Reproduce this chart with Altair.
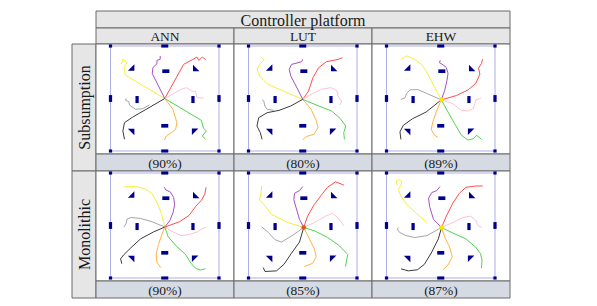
import altair as alt
import pandas as pd

SERIF = "Liberation Serif"
HEADER = "Controller platform"
PLATFORMS = ["ANN", "LUT", "EHW"]
ARCHS = ["Subsumption", "Monolithic"]
SCORES_SUB = ["(90%)", "(80%)", "(89%)"]
SCORES_MONO = ["(90%)", "(85%)", "(87%)"]

TRAJ_NAMES = ["yellow", "purple", "red", "pink", "green", "orange", "black", "gray"]
TRAJ_COLORS = ["#f4ef3c", "#a64fc4", "#ff4d4d", "#ffc4cf", "#4fd44f", "#ffb347", "#3c3c3c", "#a6a6a6"]

# arena obstacles (arena units 0-100, y downward): centre x, centre y, width, height
OBST_CX = [0, 50, 100, 0, 100, 0, 50, 100, 51, 50, 24.5, 76]
OBST_CY = [0, 0, 0, 50, 50, 100, 100, 100, 24, 76, 51, 51]
OBST_W = [3, 6.5, 3, 3, 3, 3, 6.5, 3, 6.5, 6.5, 3, 3]
OBST_H = [3, 3, 3, 6.5, 6.5, 3, 3, 3, 3.5, 3.5, 6.7, 6.7]

TRI_CX = [19, 79, 19, 78]
TRI_CY = [20.5, 21, 82, 81.6]
TRI_SHAPE = ["M1,-1L1,1L-1,1Z", "M-1,-1L-1,1L1,1Z", "M-1,-1L1,-1L1,1Z", "M-1,-1L1,-1L-1,1Z"]

SUB_ANN = {
    "yellow": [(50, 50), (13.8, 27.9), (12.3, 20.6), (15.4, 15.6), (11.4, 12.7), (10.2, 16.8)],
    "purple": [(50, 50), (38.5, 26.3), (39.1, 20.6), (42.8, 16.8), (42.8, 13.7), (45.8, 12.7), (45.8, 9.5)],
    "red": [(50, 50), (67.4, 17.5), (76, 12.7), (79.7, 10.5), (81.5, 13.7), (84.6, 10.5), (87.7, 13)],
    "pink": [(50, 50), (65.2, 41.3), (69.8, 39.7), (75.1, 42.9), (78.5, 43.5), (79.7, 49.2), (85.8, 49.8)],
    "green": [(50, 50), (83.7, 70.8), (85.8, 78.4), (88.3, 81), (84.6, 85.7), (87.7, 88.9)],
    "orange": [(50, 50), (57.5, 60.3), (61.2, 73), (60, 79.4), (56, 82.5), (51.4, 85.7), (49.8, 89.5)],
    "black": [(50, 50), (32.9, 60.3), (20.6, 67.6), (12.9, 73), (11.4, 81), (12.9, 88.9)],
    "gray": [(36, 56), (29.8, 59.7), (23.1, 60.3), (17.5, 56.2), (16.9, 53), (13.8, 51.7), (14.5, 49.8)],
}
SUB_LUT = {
    "yellow": [(50, 50.8), (37.5, 45.4), (25, 39.7), (17.2, 35.9), (10.3, 28.6), (7.8, 22.2), (10.9, 16.8), (14.1, 13.7), (12.5, 11.1)],
    "purple": [(50, 50.8), (43.8, 38.1), (39, 28.6), (37.5, 22.2), (39.7, 17.5), (44.7, 16.2), (49, 14.9), (50, 12.7)],
    "red": [(50, 50.8), (55.3, 42.9), (59.4, 30.2), (64.7, 20.6), (71.9, 14.9), (78.1, 13.7), (82.8, 12.7), (86.6, 11.1)],
    "pink": [(50, 50.8), (57.8, 46), (66.6, 41.3), (75.9, 39.7), (81.3, 42.2), (82.8, 48.6), (85.9, 52.4), (84.4, 56.2)],
    "green": [(50, 50.8), (64.7, 57.1), (76.6, 61.9), (84.4, 68.9), (89.7, 76.2), (87.8, 82.5), (88.4, 88.9)],
    "orange": [(50, 50.8), (57.8, 60.3), (62.5, 71.4), (64.1, 77.8), (60.3, 84.1), (53.1, 86.3), (50, 89.5)],
    "black": [(50, 50.8), (39, 57.1), (28.1, 61.3), (17.2, 63.5), (9.4, 68.3), (7.8, 76.2), (10.9, 82.5), (12.5, 88.9)],
    "gray": [(23.4, 61.3), (17.2, 60.3), (15, 57.1), (14.1, 52.4), (12.5, 51.1)],
}
SUB_EHW = {
    "yellow": [(50.5, 51.3), (44.3, 39.3), (38.1, 26.7), (32.8, 17.9), (25.7, 12.6), (18.6, 9.4), (13.3, 12.6)],
    "purple": [(50.5, 51.3), (53.6, 42.5), (55.7, 33), (56.7, 26.1), (55.1, 20.4), (52, 17.9), (48.9, 16), (49.5, 13.5)],
    "red": [(50.5, 51.3), (64.4, 47.2), (75.2, 41.8), (82.4, 35.5), (86.1, 26.7), (84.8, 21.1), (87.6, 16.7), (88.5, 12.6)],
    "pink": [(50.5, 51.3), (61.3, 55), (69, 61.3), (75.2, 61.9), (79.9, 59.7), (81.4, 55), (82.4, 51.3), (87.6, 49.4)],
    "green": [(50.5, 51.3), (56.7, 62.9), (62.8, 73.9), (69, 84.9), (75.2, 89.6), (80.5, 88.1), (83, 84.9), (87.6, 89)],
    "orange": [(50.5, 51.3), (45.8, 62.9), (42.7, 72.3), (41.2, 79.6), (44.3, 84.9), (47.4, 87.1)],
    "black": [(50.5, 51.3), (36.5, 62.9), (24.1, 69.2), (15.5, 75.5), (12.4, 81.8), (13.3, 89)],
    "gray": [(50.5, 51.3), (38.1, 45.6), (28.8, 41.5), (21.7, 41.8), (18.6, 45), (17, 49.4), (13.3, 50.9)],
}
MONO_ANN = {
    "yellow": [(50.1, 51.5), (47.2, 39.4), (43.3, 28.8), (38.2, 19.7), (32.2, 15.2), (24.2, 13), (12.8, 13)],
    "purple": [(50.1, 51.5), (54.6, 45.5), (57.6, 37.9), (59.1, 30.3), (58.2, 23.3), (55.2, 18.2), (51, 16.1), (49.6, 13.6)],
    "red": [(50.1, 51.5), (63.6, 46.4), (72.5, 40.3), (78.5, 31.8), (83.9, 25.8), (86.9, 20.3), (88.1, 13.6)],
    "pink": [(50.1, 51.5), (57.6, 56.1), (65.1, 59.7), (73.1, 58.5), (80, 56.1), (84.5, 53), (88.1, 51.5)],
    "green": [(50.1, 51.5), (53.1, 60.6), (60.6, 69.7), (69, 77.3), (74, 85.8), (78.5, 90.9), (83, 92.4), (87.5, 91.2)],
    "orange": [(50.1, 51.5), (47.2, 59.1), (44.2, 68.2), (42.1, 77.3), (42.7, 84.8), (46.3, 90)],
    "black": [(50.1, 51.5), (39.7, 56.1), (27.8, 62.7), (18.8, 71.2), (12.2, 77.9), (9.3, 81.8), (10.4, 86.4)],
    "gray": [(50.1, 51.5), (38.2, 46.4), (27.8, 43.3), (18.8, 42.4), (15.2, 43.9), (14.3, 48.5), (12.2, 51.5)],
}
MONO_LUT = {
    "yellow": [(50.9, 51.9), (36.4, 47.2), (21.2, 39.4), (13.6, 29.2), (10, 25.5), (11.5, 19.9), (12.1, 12.4)],
    "purple": [(50.9, 51.9), (47, 44.1), (43.9, 33.2), (41.8, 25.5), (42.4, 19.3), (47, 16.8), (50, 13)],
    "red": [(50.9, 51.9), (54.5, 41), (60.6, 30.1), (66.7, 21.7), (72.7, 13.7), (80.3, 8.4), (87.9, 11.5)],
    "pink": [(50.9, 51.9), (60.6, 47.2), (71.2, 41), (77.3, 38.5), (82.4, 42.5), (87.9, 50.3)],
    "green": [(50.9, 51.9), (60.6, 55), (72.7, 61.2), (83.3, 68.9), (91.5, 77.6), (89.4, 89.1)],
    "orange": [(50.9, 51.9), (56.1, 62.7), (60.6, 72), (62.4, 79.8), (59.1, 86), (51.5, 89.1)],
    "black": [(50.9, 51.9), (47, 65.8), (39.4, 76.7), (32.7, 87), (25.8, 93.2), (15.2, 93.8), (13.6, 90.1)],
    "gray": [(50.9, 51.9), (42.4, 58.1), (36.4, 62.1), (30.3, 65.8), (24.2, 63.4), (18.2, 56.5), (12.1, 51.2)],
}
MONO_EHW = {
    "yellow": [(37.3, 47.2), (26.9, 37.9), (17.9, 29.2), (12.8, 20.8), (11, 15.5), (13.4, 11.5), (14, 8.4), (11.9, 6.2), (9, 7.5), (9.9, 11.5)],
    "purple": [(50.7, 51.9), (43.3, 44.1), (39.7, 31.7), (38.8, 23.9), (41.8, 18.6), (46.3, 16.8), (49.3, 13)],
    "red": [(50.7, 51.9), (55.2, 41), (61.2, 28.6), (67.2, 19.3), (73.1, 13.7), (82.1, 12.4), (88.7, 12.4)],
    "pink": [(50.7, 51.9), (61.2, 47.2), (70.1, 42.5), (77.6, 41), (82.1, 44.7), (84.5, 50.3), (88.1, 51.9)],
    "green": [(50.7, 51.9), (59.7, 56.5), (73.1, 62.7), (82.1, 70.5), (86.6, 76.7), (88.1, 82.9), (87.5, 90.7)],
    "orange": [(50.7, 51.9), (53.7, 61.2), (58.2, 70.5), (60.6, 79.8), (56.7, 87.6), (52.2, 92.2)],
    "black": [(50.7, 51.9), (47.8, 62.7), (41.8, 75.2), (34.9, 87), (28.4, 92.2), (20, 93.2), (13.4, 91.3)],
    "gray": [(50.7, 51.9), (37.3, 59.6), (26, 61.5), (17.9, 59.6), (11.9, 56.5), (9.9, 53.4), (11.3, 51.9)],
}
# centre marker per panel (colour, x, y) or None
DOT_SUB = [None, None, ("#f6e600", 50.5, 51.3)]
DOT_MONO = [None, ("#e2561e", 50.9, 51.9), ("#f6e600", 50.7, 51.9)]

# ---- table layout (pixel units of the table) ----
COL_EDGES = [0, 24, 162, 300, 438]          # row-header | ANN | LUT | EHW
ROW_EDGES = [0, 17, 33, 143, 160, 270, 287]  # title | col hdr | panel | caption | panel | caption
ARENA_LEFT, ARENA_TOP = 14.5, 2.0
ARENA_W, ARENA_H = 108.5, 105.0
BORDER = "#6a6a6a"
HDR_FILL = "#e6e6e6"
CAP_FILL = "#d6dbe3"
TXT = "#1a1a1a"
NAVY = "#00008b"
W, H = COL_EDGES[-1], ROW_EDGES[-1]

# ---- table cells ----
cells = []
texts = []


def add_cell(x0, x1, y0, y1, fill, label=None, kind=None):
    cells.append({"x0": x0, "x1": x1, "y0": y0, "y1": y1, "fill": fill})
    if label is not None:
        texts.append({"x": (x0 + x1) / 2, "y": (y0 + y1) / 2, "label": label, "kind": kind})


add_cell(COL_EDGES[1], COL_EDGES[4], ROW_EDGES[0], ROW_EDGES[1], HDR_FILL, HEADER, "title")
for c, p in enumerate(PLATFORMS):
    add_cell(COL_EDGES[c + 1], COL_EDGES[c + 2], ROW_EDGES[1], ROW_EDGES[2], HDR_FILL, p, "small")
add_cell(COL_EDGES[0], COL_EDGES[1], ROW_EDGES[2], ROW_EDGES[4], HDR_FILL, ARCHS[0], "vert")
add_cell(COL_EDGES[0], COL_EDGES[1], ROW_EDGES[4], ROW_EDGES[6], HDR_FILL, ARCHS[1], "vert")
for r, scores in enumerate([SCORES_SUB, SCORES_MONO]):
    for c, s in enumerate(scores):
        add_cell(COL_EDGES[c + 1], COL_EDGES[c + 2], ROW_EDGES[2 + 2 * r], ROW_EDGES[3 + 2 * r], "white")
        add_cell(COL_EDGES[c + 1], COL_EDGES[c + 2], ROW_EDGES[3 + 2 * r], ROW_EDGES[4 + 2 * r], CAP_FILL, s, "small")

cells_df = pd.DataFrame(cells)
texts_df = pd.DataFrame(texts)


# ---- panel contents mapped into table space ----
def to_table(c, r, xu, yu):
    return (COL_EDGES[c + 1] + ARENA_LEFT + xu * ARENA_W / 100.0,
            ROW_EDGES[2 + 2 * r] + ARENA_TOP + yu * ARENA_H / 100.0)


line_rows, arena_rows, obst_rows, tri_rows, dot_rows = [], [], [], [], []
panels = [[SUB_ANN, SUB_LUT, SUB_EHW], [MONO_ANN, MONO_LUT, MONO_EHW]]
dots = [DOT_SUB, DOT_MONO]
for r in range(2):
    for c in range(3):
        ax0, ay0 = to_table(c, r, 0, 0)
        ax1, ay1 = to_table(c, r, 100, 100)
        arena_rows.append({"x0": ax0, "x1": ax1, "y0": ay0, "y1": ay1})
        for cx, cy, w, h in zip(OBST_CX, OBST_CY, OBST_W, OBST_H):
            x0, y0 = to_table(c, r, cx - w / 2, cy - h / 2)
            x1, y1 = to_table(c, r, cx + w / 2, cy + h / 2)
            obst_rows.append({"x0": x0, "x1": x1, "y0": y0, "y1": y1})
        for cx, cy, shp in zip(TRI_CX, TRI_CY, TRI_SHAPE):
            x, y = to_table(c, r, cx, cy)
            tri_rows.append({"x": x, "y": y, "shape": shp})
        for name, pts in panels[r][c].items():
            for i, (xu, yu) in enumerate(pts):
                x, y = to_table(c, r, xu, yu)
                line_rows.append({"key": f"{r}-{c}-{name}", "traj": name, "i": i, "x": x, "y": y})
        d = dots[r][c]
        if d is not None:
            x, y = to_table(c, r, d[1], d[2])
            dot_rows.append({"x": x, "y": y, "col": d[0]})

xs = alt.Scale(domain=[0, W], nice=False, zero=False)
ys = alt.Scale(domain=[0, H], nice=False, zero=False, reverse=True)
X = alt.X("x:Q", scale=xs, axis=None)
Y = alt.Y("y:Q", scale=ys, axis=None)


def rect_enc():
    return dict(x=alt.X("x0:Q", scale=xs, axis=None), x2="x1:Q",
                y=alt.Y("y0:Q", scale=ys, axis=None), y2="y1:Q")


cell_layer = alt.Chart(cells_df).mark_rect(stroke=BORDER, strokeWidth=1).encode(
    fill=alt.Fill("fill:N", scale=None), **rect_enc())
arena_layer = alt.Chart(pd.DataFrame(arena_rows)).mark_rect(
    fillOpacity=0, stroke="#aeaee6", strokeWidth=1).encode(**rect_enc())
obst_layer = alt.Chart(pd.DataFrame(obst_rows)).mark_rect(color=NAVY).encode(**rect_enc())
tri_layer = alt.Chart(pd.DataFrame(tri_rows)).mark_point(
    filled=True, color=NAVY, opacity=1, size=42, strokeWidth=0).encode(
    x=X, y=Y, shape=alt.Shape("shape:N", scale=None, legend=None))
line_layer = alt.Chart(pd.DataFrame(line_rows)).mark_line(strokeWidth=1).encode(
    x=X, y=Y,
    color=alt.Color("traj:N", scale=alt.Scale(domain=TRAJ_NAMES, range=TRAJ_COLORS), legend=None),
    detail="key:N", order="i:Q")
dot_layer = alt.Chart(pd.DataFrame(dot_rows)).mark_circle(opacity=1, size=22).encode(
    x=X, y=Y, color=alt.Color("col:N", scale=None))

text_title = alt.Chart(texts_df[texts_df.kind == "title"]).mark_text(
    font=SERIF, fontSize=16, color=TXT, baseline="middle", align="center", dy=1).encode(
    x=X, y=Y, text="label:N")
text_small = alt.Chart(texts_df[texts_df.kind == "small"]).mark_text(
    font=SERIF, fontSize=13.5, color=TXT, baseline="middle", align="center", dy=1).encode(
    x=X, y=Y, text="label:N")
text_vert = alt.Chart(texts_df[texts_df.kind == "vert"]).mark_text(
    font=SERIF, fontSize=16, color=TXT, baseline="middle", align="center", angle=270, dy=1).encode(
    x=X, y=Y, text="label:N")

chart = alt.layer(cell_layer, arena_layer, obst_layer, tri_layer, line_layer, dot_layer,
                  text_title, text_small, text_vert).properties(
    width=W, height=H,
    padding={"left": 63, "top": 2, "right": 4, "bottom": 4},
    background="white",
).configure_view(stroke=None).configure_text(font=SERIF)

chart.save("out.html", embed_options={"renderer": "svg", "actions": False})
